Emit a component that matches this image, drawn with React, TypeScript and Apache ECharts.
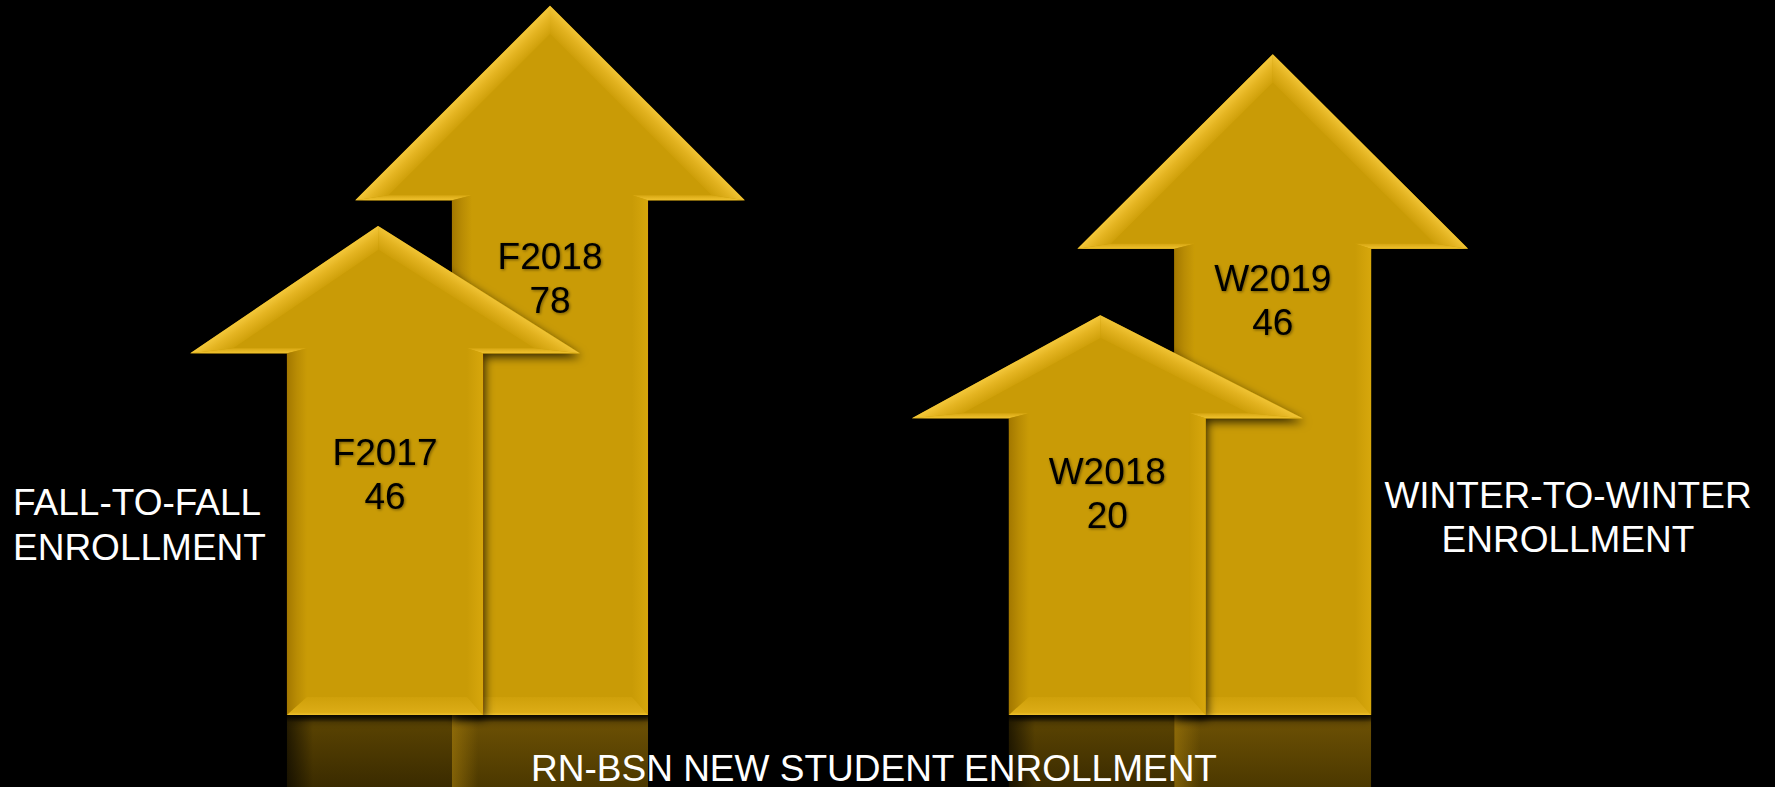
import React, { useEffect, useRef } from "react";
import * as echarts from "echarts";

// ---- data ----
const fallTerms = ["F2017", "F2018"];
const fallEnrollment = [46, 78];
const fallArrowTip = [68.4, 99.2];
const fallArrowHeadBase = [50.6, 72.0];
const fallLabelLevel = [33.6, 61.1];

const winterTerms = ["W2018", "W2019"];
const winterEnrollment = [20, 46];
const winterArrowTip = [55.9, 92.4];
const winterArrowHeadBase = [41.5, 65.2];
const winterLabelLevel = [31.0, 58.0];

const groupLabels = ["FALL-TO-FALL\nENROLLMENT", "WINTER-TO-WINTER\nENROLLMENT"];
const chartTitle = "RN-BSN NEW STUDENT ENROLLMENT";

const FONT = '"Liberation Sans", Arial, Helvetica, sans-serif';
const MAIN = "#C99B06";

function lg(x0: number, y0: number, x1: number, y1: number, stops: [number, string][]) {
  return new echarts.graphic.LinearGradient(
    x0, y0, x1, y1,
    stops.map(([offset, color]) => ({ offset, color })),
    true
  );
}

function makeRenderItem(terms: string[]) {
  return (params: any, api: any) => {
    const idx = params.dataIndex;
    const cat = api.value(0);
    const tip = api.value(1);
    const headBase = api.value(2);
    const labelLevel = api.value(3);
    const value = api.value(4);
    const [cx, tipY] = api.coord([cat, tip]);
    const baseY = api.coord([cat, headBase])[1];
    const botY = api.coord([cat, 0])[1];
    const lblY = api.coord([cat, labelLevel])[1];
    const band = api.size([1, 0])[0];
    const H = api.getHeight();
    const sw = band * 0.594;
    const hw = band * 1.18;
    const front = cat === 0;
    const zb = front ? 30 : 10;
    const tx = cx + (front ? -band * 0.042 : 0);

    const hh = baseY - tipY;
    const bh = 20; // head bevel
    const bu = 5; // underside bevel
    const bl = 20; // shaft left bevel
    const br = 16; // shaft right bevel
    const bb = 18; // bottom bevel

    const hwL = tx - (cx - hw);
    const hwR = cx + hw - tx;
    const LL = Math.sqrt(hwL * hwL + hh * hh);
    const LR = Math.sqrt(hwR * hwR + hh * hh);
    const sL = hh / hwL;
    const sR = hh / hwR;
    const aL = tipY + (bh * LL) / hwL;
    const aR = tipY + (bh * LR) / hwR;
    const u = (aR - aL) / (sL + sR);

    const T = [tx, tipY];
    const Ti = [tx - u, aL + sL * u];
    const yb = baseY - bu;
    const dxL = (yb - aL) / sL;
    const dxR = (yb - aR) / sR;
    const HL = [cx - hw, baseY];
    const HR = [cx + hw, baseY];
    const SL = [cx - sw, baseY];
    const SR = [cx + sw, baseY];
    const BL = [cx - sw, botY];
    const BR = [cx + sw, botY];
    const HLi = [tx - dxL, yb];
    const HRi = [tx + dxR, yb];
    const SLi = [cx - sw + bl, yb];
    const SRi = [cx + sw - br, yb];
    const BLi = [cx - sw + bl, botY - bb];
    const BRi = [cx + sw - br, botY - bb];

    const nLx = hh / LL, nLy = hwL / LL;
    const nRx = hh / LR, nRy = hwR / LR;
    const mL = [(T[0] + HL[0]) / 2, (T[1] + HL[1]) / 2];
    const mR = [(T[0] + HR[0]) / 2, (T[1] + HR[1]) / 2];

    const children: any[] = [];

    // reflection
    children.push({
      type: "rect",
      shape: { x: cx - sw, y: botY, width: sw * 2, height: H - botY },
      style: {
        fill: lg(0, botY, 0, H, front
          ? [[0, "#140F00"], [0.1, "#5A4302"], [1, "#3A2B00"]]
          : [[0, "#1A1300"], [0.1, "#6C5004"], [1, "#4B3800"]]),
      },
      z2: front ? 1 : 2,
    });
    children.push({
      type: "rect",
      shape: { x: cx - sw, y: botY, width: 26, height: H - botY },
      style: {
        fill: lg(cx - sw, 0, cx - sw + 26, 0, front
          ? [[0, "rgba(0,0,0,0.6)"], [1, "rgba(0,0,0,0)"]]
          : [[0, "rgba(170,128,12,0.55)"], [1, "rgba(170,128,12,0)"]]),
      },
      z2: front ? 1.5 : 2.5,
    });

    // outline with shadow
    children.push({
      type: "polygon",
      shape: { points: [T, HL, SL, BL, BR, SR, HR] },
      style: {
        fill: MAIN,
        shadowBlur: 10,
        shadowColor: "rgba(0,0,0,0.75)",
        shadowOffsetX: 2,
        shadowOffsetY: 4,
      },
      z2: zb,
    });
    // face
    children.push({
      type: "polygon",
      shape: { points: [Ti, HLi, SLi, BLi, BRi, SRi, HRi] },
      style: { fill: MAIN },
      z2: zb + 1,
    });
    // head left facet
    children.push({
      type: "polygon",
      shape: { points: [T, HL, HLi, Ti] },
      style: {
        fill: lg(mL[0], mL[1], mL[0] + nLx * bh, mL[1] + nLy * bh,
          [[0, "#F3C73A"], [0.4, "#E5B522"], [1, "#CFA00A"]]),
      },
      z2: zb + 2,
    });
    // head right facet
    children.push({
      type: "polygon",
      shape: { points: [T, Ti, HRi, HR] },
      style: {
        fill: lg(mR[0], mR[1], mR[0] - nRx * bh, mR[1] + nRy * bh,
          [[0, "#F0C334"], [0.4, "#E2B21F"], [1, "#CD9E09"]]),
      },
      z2: zb + 2,
    });
    // underside facets
    children.push({
      type: "polygon",
      shape: { points: [HL, SL, SLi, HLi] },
      style: { fill: lg(0, yb, 0, baseY, [[0, "#D6A612"], [1, "#F0C22E"]]) },
      z2: zb + 2,
    });
    children.push({
      type: "polygon",
      shape: { points: [HRi, SRi, SR, HR] },
      style: { fill: lg(0, yb, 0, baseY, [[0, "#D6A612"], [1, "#F0C22E"]]) },
      z2: zb + 2,
    });
    // shaft left facet
    children.push({
      type: "polygon",
      shape: { points: [SL, BL, BLi, SLi] },
      style: {
        fill: lg(cx - sw, 0, cx - sw + bl, 0,
          [[0, "#A37800"], [0.5, "#B98C04"], [1, MAIN]]),
      },
      z2: zb + 2,
    });
    // shaft right facet
    children.push({
      type: "polygon",
      shape: { points: [SRi, BRi, BR, SR] },
      style: {
        fill: lg(cx + sw - br, 0, cx + sw, 0,
          [[0, MAIN], [1, "#D7A70C"]]),
      },
      z2: zb + 2,
    });
    // bottom facet
    children.push({
      type: "polygon",
      shape: { points: [BL, BR, BRi, BLi] },
      style: {
        fill: lg(0, botY - bb, 0, botY,
          [[0, "#CFA00A"], [0.85, "#DCAC16"], [1, "#EEC02C"]]),
      },
      z2: zb + 2,
    });
    // label
    children.push({
      type: "text",
      x: cx,
      y: lblY,
      style: {
        text: `${terms[idx]}\n${value}`,
        fill: "#000",
        font: `37px ${FONT}`,
        align: "center",
        verticalAlign: "middle",
        lineHeight: 44,
        textShadowColor: "rgba(0,0,0,0.45)",
        textShadowBlur: 3,
        textShadowOffsetX: 1,
        textShadowOffsetY: 1,
      },
      z2: zb + 5,
    });

    return { type: "group", children };
  };
}

export default function App() {
  const ref = useRef<HTMLDivElement>(null);

  useEffect(() => {
    if (!ref.current) return;
    const chart = echarts.init(ref.current, undefined, { renderer: "svg" });
    const option: any = {
      animation: false,
      backgroundColor: "#000",
      grid: [
        { left: 302.5, width: 330, top: 0, height: 715 },
        { left: 1024.5, width: 331, top: 0, height: 715 },
      ],
      xAxis: [
        { type: "category", gridIndex: 0, data: fallTerms, show: false },
        { type: "category", gridIndex: 1, data: winterTerms, show: false },
      ],
      yAxis: [
        { type: "value", gridIndex: 0, min: 0, max: 100, show: false },
        { type: "value", gridIndex: 1, min: 0, max: 100, show: false },
      ],
      series: [
        {
          type: "custom",
          xAxisIndex: 0,
          yAxisIndex: 0,
          renderItem: makeRenderItem(fallTerms),
          data: fallTerms.map((_, i) => [
            i, fallArrowTip[i], fallArrowHeadBase[i], fallLabelLevel[i], fallEnrollment[i],
          ]),
        },
        {
          type: "custom",
          xAxisIndex: 1,
          yAxisIndex: 1,
          renderItem: makeRenderItem(winterTerms),
          data: winterTerms.map((_, i) => [
            i, winterArrowTip[i], winterArrowHeadBase[i], winterLabelLevel[i], winterEnrollment[i],
          ]),
        },
      ],
      graphic: [
        {
          type: "text",
          x: 13,
          y: 524.5,
          z: 100,
          style: {
            text: groupLabels[0],
            fill: "#fff",
            font: `37px ${FONT}`,
            align: "left",
            verticalAlign: "middle",
            lineHeight: 45,
          },
        },
        {
          type: "text",
          x: 1568,
          y: 517,
          z: 100,
          style: {
            text: groupLabels[1],
            fill: "#fff",
            font: `37px ${FONT}`,
            align: "center",
            verticalAlign: "middle",
            lineHeight: 44,
          },
        },
        {
          type: "text",
          x: 874,
          y: 768,
          z: 100,
          style: {
            text: chartTitle,
            fill: "#fff",
            font: `37px ${FONT}`,
            align: "center",
            verticalAlign: "middle",
          },
        },
      ],
    };
    chart.setOption(option);
    return () => chart.dispose();
  }, []);

  return (
    <div
      ref={ref}
      style={{ position: "absolute", left: 0, top: 0, width: 1775, height: 787 }}
    />
  );
}
